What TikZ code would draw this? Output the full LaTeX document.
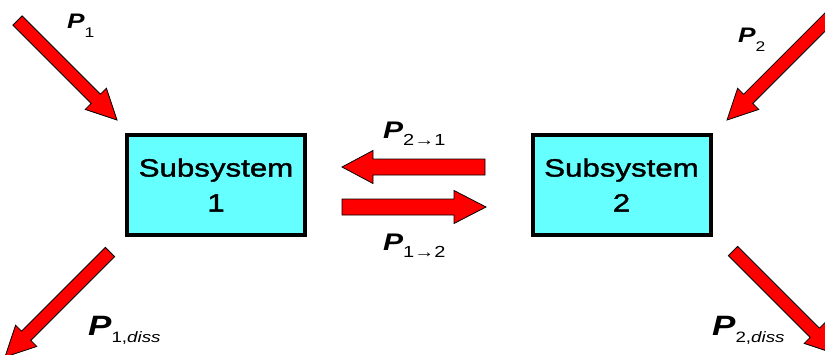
\documentclass[tikz,border=0pt]{standalone}
\usepackage{fontspec}
\setmainfont{Liberation Sans}[FakeStretch=1.25]
\newfontfamily\boxfont{Liberation Sans}[FakeStretch=1.25,FakeBold=1.5]
\usetikzlibrary{calc}
\definecolor{boxcyan}{RGB}{102,255,255}
\tikzset{
  box/.style={draw=black, line width=4pt, fill=boxcyan, minimum width=178pt,
    minimum height=100pt, align=center, inner sep=0pt,
    font=\boxfont\fontsize{25}{35}\selectfont},
  arrowfill/.style={fill=red, draw=black, line width=0.8pt, line join=miter},
  lbl/.style={anchor=base west, inner sep=0pt},
}
% #1 tail, #2 tip, #3 half shaft width, #4 half head width, #5 head length
\newcommand\blockarrow[5]{%
  \coordinate (#1-#2-h) at ($(#2)!#5!(#1)$);
  \draw[arrowfill] ($(#1)!#3!90:(#2)$) -- ($(#1-#2-h)!#3!90:(#2)$)
    -- ($(#1-#2-h)!#4!90:(#2)$) -- (#2) -- ($(#1-#2-h)!#4!-90:(#2)$)
    -- ($(#1-#2-h)!#3!-90:(#2)$) -- ($(#1)!#3!-90:(#2)$) -- cycle;}
% #1 P size, #2 sub size, #3 subscript, #4 drop
\newcommand\plab[4]{{\fontsize{#1}{#1}\selectfont\bfseries\itshape P}\raisebox{-#4}{\fontsize{#2}{#2}\selectfont #3}}
\begin{document}
\begin{tikzpicture}[x=1pt,y=-1pt]
\useasboundingbox (0,0) rectangle (825,354);
\fill[white] (0,0) rectangle (825,354);
\clip (0,0) rectangle (825,354);

\node[box] (s1) at (216,185) {Subsystem\\1};
\node[box] (s2) at (621.5,185) {Subsystem\\2};

% diagonal arrows
\coordinate (a1t) at (17.5,20.5);
\coordinate (a1h) at (117,120);
\coordinate (d1t) at (110,252);
\coordinate (d1h) at (5,357);
\coordinate (a2t) at (830,17);
\coordinate (a2h) at (727,120);
\coordinate (d2t) at (733,251);
\coordinate (d2h) at (836,354);
% middle arrows
\coordinate (m1t) at (485,167);
\coordinate (m1h) at (342,167);
\coordinate (m2t) at (342,207);
\coordinate (m2h) at (486,207);

\blockarrow{a1t}{a1h}{6.5pt}{15pt}{30pt}
\blockarrow{d1t}{d1h}{6.5pt}{15pt}{30pt}
\blockarrow{a2t}{a2h}{6.5pt}{15pt}{30pt}
\blockarrow{d2t}{d2h}{6.5pt}{15pt}{30pt}
\blockarrow{m1t}{m1h}{8pt}{16.5pt}{31pt}
\blockarrow{m2t}{m2h}{8pt}{16.5pt}{32pt}

\node[lbl] (p1) at (67,28) {\plab{21}{14}{1}{9pt}};
\node[lbl] (p2) at (738,42) {\plab{21}{14}{2}{9pt}};
\node[lbl] (p21) at (383,138) {\plab{24}{16}{2→1}{7pt}};
\node[lbl] (p12) at (383,250) {\plab{24}{16}{1→2}{7pt}};
\node[lbl] (p1d) at (88,335) {\plab{28}{15}{1,\textit{diss}}{7pt}};
\node[lbl] (p2d) at (712,335) {\plab{28}{15}{2,\textit{diss}}{7pt}};
\end{tikzpicture}
\end{document}
